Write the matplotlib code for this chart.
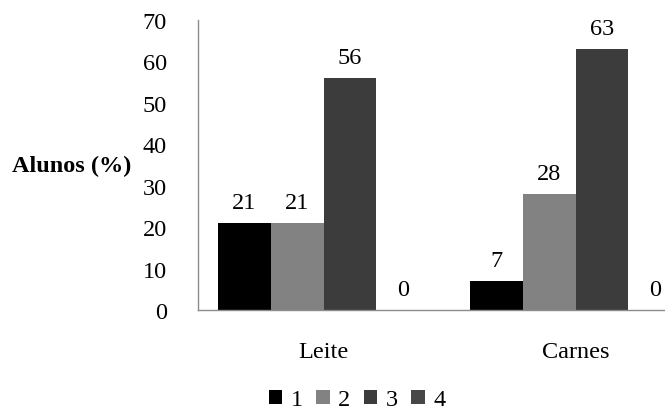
import matplotlib.pyplot as plt
import numpy as np

plt.rcParams['font.family'] = ['Liberation Serif', 'DejaVu Serif']

categories = ['Leite', 'Carnes']
series_names = ['1', '2', '3', '4']
values = {
    '1': [21, 7],
    '2': [21, 28],
    '3': [56, 63],
    '4': [0, 0],
}
colors = ['#000000', '#828282', '#3c3c3c', '#474747']

fig = plt.figure(figsize=(6.65, 4.10), dpi=100)
ax = fig.add_axes([0.297, 0.2415, 0.758, 0.7073])

x = np.arange(len(categories))
w = 0.21
offsets = (np.arange(len(series_names)) - 1.5) * w
for name, off, c in zip(series_names, offsets, colors):
    bars = ax.bar(x + off, values[name], width=w, color=c, label=name)
    for b, v in zip(bars, values[name]):
        ax.text(b.get_x() + b.get_width() / 2, v + 2.5, str(v),
                ha='center', va='bottom', fontsize=17.5)

ax.set_xlim(-0.5, 1.5)
ax.set_ylim(0, 70)
ax.set_yticks(range(0, 71, 10))
ax.set_xticks(x)
ax.set_xticklabels(categories)
ax.tick_params(axis='y', length=0, pad=22, labelsize=17.5)
ax.tick_params(axis='x', length=0, pad=22, labelsize=17.5)

for s in ['top', 'right']:
    ax.spines[s].set_visible(False)
for s in ['left', 'bottom']:
    ax.spines[s].set_color('#8c8c8c')
    ax.spines[s].set_linewidth(1)

fig.text(0.018, 0.593, 'Alunos (%)', fontsize=17.5, fontweight='bold',
         ha='left', va='center')

leg = fig.legend(loc='center', bbox_to_anchor=(0.537, 0.022), ncol=4,
                 frameon=False, fontsize=17.5, handlelength=0.55, handleheight=0.55,
                 handletextpad=0.35, columnspacing=0.55, borderaxespad=0)

fig.savefig('out.png', dpi=100, facecolor='white')
